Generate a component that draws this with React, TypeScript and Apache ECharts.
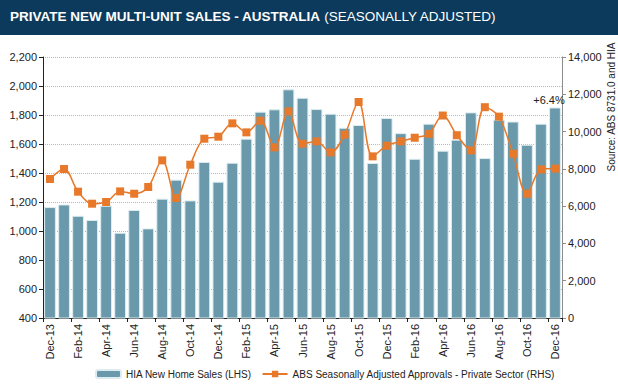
import React, { useEffect, useRef } from 'react';
import * as echarts from 'echarts';

const categories = [
  'Dec-13', 'Jan-14', 'Feb-14', 'Mar-14', 'Apr-14', 'May-14', 'Jun-14', 'Jul-14', 'Aug-14', 'Sep-14', 'Oct-14', 'Nov-14',
  'Dec-14', 'Jan-15', 'Feb-15', 'Mar-15', 'Apr-15', 'May-15', 'Jun-15', 'Jul-15', 'Aug-15', 'Sep-15', 'Oct-15', 'Nov-15',
  'Dec-15', 'Jan-16', 'Feb-16', 'Mar-16', 'Apr-16', 'May-16', 'Jun-16', 'Jul-16', 'Aug-16', 'Sep-16', 'Oct-16', 'Nov-16',
  'Dec-16',
];

const hiaSales = [
  1165, 1183, 1105, 1076, 1174, 988, 1145, 1018, 1223, 1354, 1211, 1476,
  1340, 1471, 1637, 1823, 1839, 1977, 1919, 1841, 1809, 1712, 1731, 1469,
  1779, 1675, 1498, 1740, 1554, 1630, 1818, 1503, 1768, 1755, 1595, 1740,
  1852,
];

const absApprovals = [
  7456, 7992, 6775, 6131, 6222, 6791, 6667, 7027, 8455, 6437, 8223, 9618,
  9725, 10440, 9957, 10583, 9152, 11083, 9350, 9474, 8884, 9833, 11586, 8670,
  9242, 9474, 9670, 9877, 10860, 9805, 8991, 11308, 10800, 8813, 6667, 7970,
  8015,
];

const lastChangeLabel = '+6.4%';
const titleBold = 'PRIVATE NEW MULTI-UNIT SALES - AUSTRALIA';
const titleNormal = ' (SEASONALLY ADJUSTED)';
const sourceText = 'Source: ABS 8731.0 and HIA';
const seriesNames = ['HIA New Home Sales (LHS)', 'ABS Seasonally Adjusted Approvals - Private Sector (RHS)'];

const fmt = (v: number) => v.toLocaleString('en-US');

export default function App() {
  const ref = useRef<HTMLDivElement>(null);
  useEffect(() => {
    const chart = echarts.init(ref.current!, null, { renderer: 'svg' });
    const font = '"Liberation Sans", Arial, sans-serif';
    const textColor = '#222';
    chart.setOption({
      animation: false,
      backgroundColor: '#ffffff',
      textStyle: { fontFamily: font },
      title: {
        left: 5,
        top: 4,
        text: `{b|${titleBold}}{n|${titleNormal}}`,
        textStyle: {
          rich: {
            b: { fontFamily: font, fontWeight: 'bold', fontSize: 13.5, color: '#ffffff' },
            n: { fontFamily: font, fontWeight: 'normal', fontSize: 13.5, color: '#ffffff' },
          },
        },
        z: 10,
      },
      graphic: [
        {
          type: 'rect',
          left: 0,
          top: 0,
          shape: { width: 618, height: 35 },
          style: { fill: '#0b3a5c' },
          z: 0,
        },
        {
          type: 'text',
          x: 611,
          y: 107,
          rotation: Math.PI / 2,
          style: {
            text: sourceText,
            align: 'center',
            verticalAlign: 'middle',
            fontSize: 10,
            fontFamily: font,
            fill: textColor,
          },
        },
      ],
      legend: {
        left: 90,
        top: 364,
        itemWidth: 25,
        itemHeight: 8,
        itemGap: 10,
        textStyle: { fontSize: 10, color: textColor, fontFamily: font },
        data: seriesNames,
      },
      grid: { left: 43, right: 56, top: 57, bottom: 68, containLabel: false },
      xAxis: {
        type: 'category',
        data: categories,
        boundaryGap: true,
        axisLine: { lineStyle: { color: '#222', width: 1 } },
        axisTick: { show: true, interval: 1, length: 4, lineStyle: { color: '#222' } },
        axisLabel: { interval: 1, rotate: 90, fontSize: 11, color: textColor, margin: 6, fontFamily: font },
      },
      yAxis: [
        {
          type: 'value',
          position: 'left',
          min: 400,
          max: 2200,
          interval: 200,
          axisLine: { show: true, lineStyle: { color: '#222', width: 1 } },
          axisTick: { show: true, length: 4, lineStyle: { color: '#222' } },
          axisLabel: { fontSize: 11, color: textColor, margin: 6, formatter: fmt, fontFamily: font },
          splitLine: { show: true, lineStyle: { type: 'dotted', color: '#b8b8b8', width: 1 } },
        },
        {
          type: 'value',
          position: 'right',
          min: 0,
          max: 14000,
          interval: 2000,
          axisLine: { show: true, lineStyle: { color: '#8c8c8c', width: 1 } },
          axisTick: { show: true, length: 4, lineStyle: { color: '#8c8c8c' } },
          axisLabel: { fontSize: 11, color: textColor, margin: 6, formatter: fmt, fontFamily: font },
          splitLine: { show: false },
        },
      ],
      series: [
        {
          name: seriesNames[0],
          type: 'bar',
          yAxisIndex: 0,
          barCategoryGap: '16%',
          itemStyle: { color: '#6999aa', borderColor: '#dcecf1', borderWidth: 1 },
          data: hiaSales.map((v, i) =>
            i === hiaSales.length - 1
              ? {
                  value: v,
                  label: {
                    show: true,
                    position: 'top',
                    offset: [-6, 0],
                    distance: 2,
                    formatter: lastChangeLabel,
                    fontSize: 11,
                    color: textColor,
                    fontFamily: font,
                  },
                }
              : v
          ),
        },
        {
          name: seriesNames[1],
          type: 'line',
          yAxisIndex: 1,
          smooth: 0.35,
          symbol: 'rect',
          symbolSize: 8,
          itemStyle: { color: '#e8792a' },
          lineStyle: { color: '#e8792a', width: 1.5 },
          data: absApprovals,
        },
      ],
    });
    return () => chart.dispose();
  }, []);
  return <div ref={ref} style={{ position: 'fixed', left: 0, top: 0, width: 618, height: 386 }} />;
}
